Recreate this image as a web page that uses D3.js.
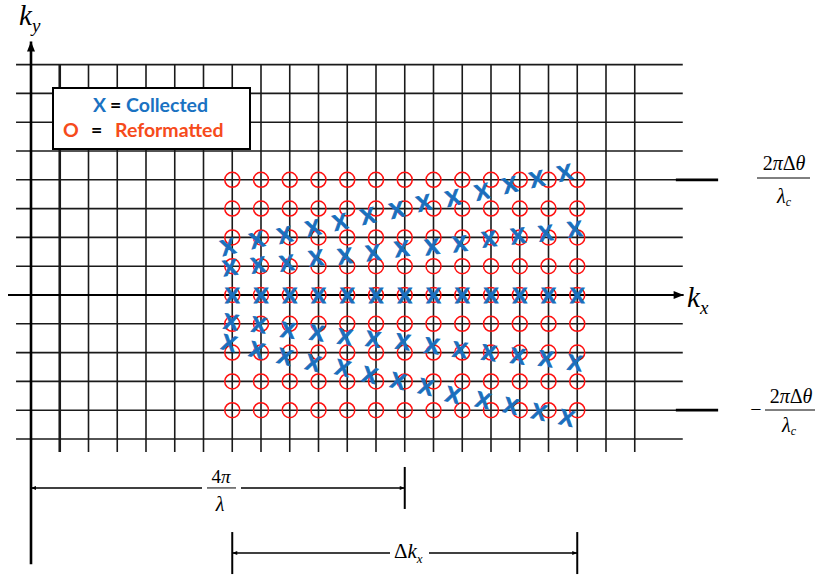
<!DOCTYPE html>
<html><head><meta charset="utf-8">
<script src="https://cdn.jsdelivr.net/npm/d3@7"></script>
<style>body{margin:0;background:#fff}</style>
</head><body>
<svg id="c" width="817" height="580"></svg>
<script>
// ---- data (grid units: kx, ky) ----
const gridKx = [1,2,3,4,5,6,7,8,9,10,11,12,13,14,15,16,17,18,19,20,21];
const gridKy = [-5,-4,-3,-2,-1,0,1,2,3,4,5,6,7,8];
const circleKx = [7,8,9,10,11,12,13,14,15,16,17,18,19];
const circleKy = [-4,-3,-2,-1,0,1,2,3,4];

const colP2Kx = [6.85,7.86,8.83,9.81,10.75,11.72,12.73,13.67,14.68,15.69,16.66,17.60,18.57];
const colP2Ky = [1.67,1.91,2.08,2.33,2.53,2.74,2.95,3.19,3.37,3.58,3.82,4.03,4.24];
const colP1Kx = [6.92,7.90,8.90,9.91,10.92,11.90,12.90,13.95,14.92,15.93,16.94,17.91,18.92];
const colP1Ky = [0.94,1.04,1.11,1.28,1.35,1.46,1.60,1.67,1.77,1.94,2.05,2.15,2.29];
const col0Kx  = [7,8,9,10,11,12,13,14,15,16,17,18,19];
const col0Ky  = [0,0,0,0,0,0,0,0,0,0,0,0,0];
const colM1Kx = [6.96,7.93,8.94,9.95,10.92,11.90,12.94,13.95,14.92,15.93,16.94,17.91,18.92];
const colM1Ky = [-0.94,-1.04,-1.22,-1.32,-1.46,-1.53,-1.63,-1.77,-1.91,-2.01,-2.12,-2.22,-2.36];
const colM2Kx = [6.89,7.86,8.83,9.81,10.85,11.79,12.77,13.74,14.68,15.72,16.70,17.67,18.64];
const colM2Ky = [-1.67,-1.91,-2.15,-2.36,-2.53,-2.78,-2.99,-3.19,-3.47,-3.65,-3.85,-4.06,-4.27];

const legendItems = [
  {sym:"X", label:"Collected", color:"#1a72c2"},
  {sym:"O", label:"Reformatted", color:"#f64b1b"}
];

// ---- drawing ----
const svg = d3.select("#c");
const x = d3.scaleLinear().domain([0,21]).range([31,634.75]);
const y = d3.scaleLinear().domain([-5,8]).range([439,64.6]);

const defs = svg.append("defs");
defs.append("marker").attr("id","ah").attr("viewBox","0 0 10 10").attr("refX",10).attr("refY",5)
  .attr("markerWidth",12).attr("markerHeight",10).attr("markerUnits","userSpaceOnUse").attr("orient","auto")
  .append("path").attr("d","M0,1 L10,5 L0,9 Z").attr("fill","#000");
defs.append("marker").attr("id","sm").attr("viewBox","0 0 10 10").attr("refX",10).attr("refY",5)
  .attr("markerWidth",6).attr("markerHeight",5).attr("markerUnits","userSpaceOnUse").attr("orient","auto-start-reverse")
  .append("path").attr("d","M0,1 L10,5 L0,9 Z").attr("fill","#000");

// grid
const g = svg.append("g");
g.selectAll("line.h").data(gridKy.filter(d=>d!==0)).join("line")
  .attr("x1",x(-0.52)).attr("x2",x(22.67)).attr("y1",d=>y(d)).attr("y2",d=>y(d))
  .attr("stroke","#1a1a1a").attr("stroke-width",1.6);
g.selectAll("line.v").data(gridKx).join("line")
  .attr("x1",d=>x(d)).attr("x2",d=>x(d)).attr("y1",y(8)).attr("y2",y(-5.45))
  .attr("stroke","#1a1a1a").attr("stroke-width",d=>d===1?2.6:1.6);

// axes
svg.append("line").attr("x1",x(-0.8)).attr("x2",x(22.7)).attr("y1",y(0)).attr("y2",y(0))
  .attr("stroke","#000").attr("stroke-width",2).attr("marker-end","url(#ah)");
svg.append("line").attr("x1",x(0)).attr("x2",x(0)).attr("y1",y(-9.35)).attr("y2",y(8.8))
  .attr("stroke","#000").attr("stroke-width",2.6).attr("marker-end","url(#ah)");

// thick ticks on right
svg.selectAll("line.tk").data([4,-4]).join("line")
  .attr("x1",x(22.43)).attr("x2",x(23.9)).attr("y1",d=>y(d)).attr("y2",d=>y(d))
  .attr("stroke","#000").attr("stroke-width",2.8);

// circles (reformatted)
const cells = [];
circleKy.forEach(ky=>circleKx.forEach(kx=>cells.push({kx,ky})));
svg.append("g").selectAll("circle").data(cells).join("circle")
  .attr("cx",d=>x(d.kx)).attr("cy",d=>y(d.ky)).attr("r",7.5)
  .attr("fill","none").attr("stroke","#ff1010").attr("stroke-width",1.5);

// collected X
const series = [[colP2Kx,colP2Ky],[colP1Kx,colP1Ky],[col0Kx,col0Ky],[colM1Kx,colM1Ky],[colM2Kx,colM2Ky]];
const pts = [];
series.forEach(([kxs,kys])=>kxs.forEach((kx,i)=>pts.push({kx,ky:kys[i]})));
svg.append("g").selectAll("text").data(pts).join("text")
  .attr("transform",d=>`translate(${x(d.kx)},${y(d.ky)}) rotate(${-Math.atan2(d.ky,d.kx)*180/Math.PI})`)
  .attr("text-anchor","middle").attr("dy","0.36em")
  .attr("font-family","Lato, 'Open Sans', sans-serif").attr("font-weight","bold").attr("font-size",21)
  .attr("fill","#1a6fbd").attr("stroke","#1a6fbd").attr("stroke-width",0.9).text("X");

// legend
svg.append("rect").attr("x",53).attr("y",88).attr("width",197).attr("height",61)
  .attr("fill","#fff").attr("stroke","#000").attr("stroke-width",2);
const lf = "Lato, 'Open Sans', sans-serif";
const l1 = svg.append("text").attr("y",112).attr("font-family",lf).attr("font-weight","bold").attr("font-size",19.5);
l1.append("tspan").attr("x",93).attr("fill",legendItems[0].color).text(legendItems[0].sym);
l1.append("tspan").attr("x",110).attr("fill","#000").text("=");
l1.append("tspan").attr("x",126).attr("fill",legendItems[0].color).text(legendItems[0].label);
const l2 = svg.append("text").attr("y",137).attr("font-family",lf).attr("font-weight","bold").attr("font-size",19.5);
l2.append("tspan").attr("x",63).attr("fill",legendItems[1].color).text(legendItems[1].sym);
l2.append("tspan").attr("x",91).attr("fill","#000").text("=");
l2.append("tspan").attr("x",115).attr("fill",legendItems[1].color).text(legendItems[1].label);

// math labels
const sf = "'Liberation Serif', 'DejaVu Serif', serif";
function kLabel(px, py, sub){
  const t = svg.append("text").attr("x",px).attr("y",py).attr("font-family",sf).attr("font-style","italic").attr("font-size",29);
  t.append("tspan").text("k");
  t.append("tspan").attr("font-size",19).attr("dy",7).text(sub);
}
kLabel(19,25,"y");
kLabel(687,307,"x");

function twoPi(cx, baseY){
  const t = svg.append("text").attr("x",cx).attr("y",baseY).attr("text-anchor","middle")
    .attr("font-family",sf).attr("font-size",20);
  t.append("tspan").text("2");
  t.append("tspan").attr("font-style","italic").text("π");
  t.append("tspan").text("Δ");
  t.append("tspan").attr("font-style","italic").text("θ");
}
function lamC(cx, baseY){
  const t = svg.append("text").attr("x",cx).attr("y",baseY).attr("text-anchor","middle")
    .attr("font-family",sf).attr("font-style","italic").attr("font-size",20);
  t.append("tspan").text("λ");
  t.append("tspan").attr("font-size",12).attr("dy",3).text("c");
}
// top
twoPi(784,170);
svg.append("line").attr("x1",757).attr("x2",810).attr("y1",178).attr("y2",178).attr("stroke","#000").attr("stroke-width",1);
lamC(784,203);
// bottom
svg.append("text").attr("x",756).attr("y",416).attr("text-anchor","middle").attr("font-family",sf).attr("font-size",20).text("−");
twoPi(791,403);
svg.append("line").attr("x1",765).attr("x2",815).attr("y1",410).attr("y2",410).attr("stroke","#000").attr("stroke-width",1);
lamC(789,432);

// dimension 4π/λ
const d1y = y(-6.7);
svg.append("line").attr("x1",x(0)).attr("x2",202).attr("y1",d1y).attr("y2",d1y)
  .attr("stroke","#000").attr("stroke-width",1.5).attr("marker-start","url(#sm)");
svg.append("line").attr("x1",241).attr("x2",x(13)).attr("y1",d1y).attr("y2",d1y)
  .attr("stroke","#000").attr("stroke-width",1.5).attr("marker-end","url(#sm)");
svg.append("line").attr("x1",x(13)).attr("x2",x(13)).attr("y1",d1y-21).attr("y2",d1y+21)
  .attr("stroke","#000").attr("stroke-width",2);
const fp = svg.append("text").attr("x",221).attr("y",483).attr("text-anchor","middle").attr("font-family",sf).attr("font-size",19);
fp.append("tspan").text("4"); fp.append("tspan").attr("font-style","italic").text("π");
svg.append("line").attr("x1",207).attr("x2",236).attr("y1",d1y).attr("y2",d1y).attr("stroke","#000").attr("stroke-width",1);
svg.append("text").attr("x",220).attr("y",511).attr("text-anchor","middle").attr("font-family",sf).attr("font-style","italic").attr("font-size",20).text("λ");

// dimension Δkx
const d2y = y(-8.96);
svg.append("line").attr("x1",x(7)).attr("x2",390).attr("y1",d2y).attr("y2",d2y)
  .attr("stroke","#000").attr("stroke-width",1.5).attr("marker-start","url(#sm)");
svg.append("line").attr("x1",429).attr("x2",x(19)).attr("y1",d2y).attr("y2",d2y)
  .attr("stroke","#000").attr("stroke-width",1.5).attr("marker-end","url(#sm)");
svg.selectAll("line.dt").data([7,19]).join("line")
  .attr("x1",d=>x(d)).attr("x2",d=>x(d)).attr("y1",d2y-21).attr("y2",d2y+21)
  .attr("stroke","#000").attr("stroke-width",2);
const dk = svg.append("text").attr("x",394).attr("y",558).attr("font-family",sf).attr("font-size",21);
dk.append("tspan").text("Δ");
dk.append("tspan").attr("font-style","italic").text("k");
dk.append("tspan").attr("font-style","italic").attr("font-size",13).attr("dy",5).text("x");
</script>
</body></html>
